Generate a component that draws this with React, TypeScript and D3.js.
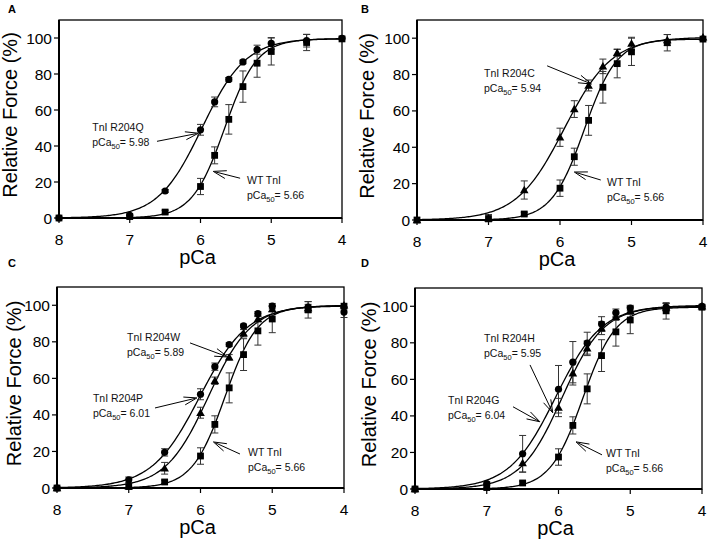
import React from "react";
import * as d3 from "d3";

// ---------- data ----------
const pCaLevels = [8, 7, 6.5, 6, 5.8, 5.6, 5.4, 5.2, 5, 4.5, 4];
const xTicks = [8, 7, 6, 5, 4];
const yTicks = [0, 20, 40, 60, 80, 100];

const wtForce = [0, 0.8, 3.3, 17.5, 34.8, 54.8, 73, 86, 92.5, 97.5, 99.5];
const wtErr = [0, 0.5, 1, 4.5, 4.7, 8.2, 8.7, 7.8, 7.5, 4.5, 0.5];
const r204qForce = [0, 1.5, 15, 49, 64.5, 77, 86.7, 93.5, 97, 98.5, 99.8];
const r204qErr = [0, 0.5, 0.8, 3, 2.7, 1, 1, 2.5, 3.2, 3.5, 0.5];
const r204cForce = [0, 1, 16.5, 45.5, 61, 74, 84.5, 92, 97, 99, 100.5];
const r204cErr = [0, 2, 5, 5, 4.6, 3, 4, 2, 3.5, 3, 0.5];
const r204pForce = [0, 4.5, 19.5, 51.3, 66.4, 78.5, 88.7, 95.5, 99.5, 99, 96.3];
const r204pErr = [0, 1.5, 2, 3, 2, 1, 1, 1, 1.5, 3, 3];
const r204wForce = [0, 1, 10.8, 41.2, 58.7, 71.5, 84.7, 92.5, 98, 98.5, 100];
const r204wErr = [0, 0.5, 3.2, 3, 2, 1.5, 2, 1.5, 1.5, 2, 0.5];
const r204gForce = [0, 3, 19.3, 54.6, 69.4, 79.8, 90.3, 96.5, 99, 99.5, 100];
const r204gErr = [0, 1, 10, 13, 11.3, 6, 4, 2, 1.5, 2, 0.5];
const r204hForce = [0, 1.5, 14.2, 44.6, 63.4, 77, 88, 94.3, 97.5, 99.5, 100];
const r204hErr = [0, 0.5, 5, 5, 6.5, 4, 3.5, 2, 2, 2, 0.5];

// Hill fit parameters: [pCa50, hill n, Fmax]
const wtFit = [5.66, 1.9, 99.5];
const r204qFit = [5.98, 1.4, 99.8];
const r204cFit = [5.94, 1.3, 100.5];
const r204pFit = [6.01, 1.3, 100];
const r204wFit = [5.89, 1.45, 100];
const r204gFit = [6.04, 1.35, 100.5];
const r204hFit = [5.95, 1.5, 100];

type Series = { force: number[]; err: number[]; fit: number[]; marker: "circle" | "square" | "triangle" };
type Note = { name: string; value: string; text: [number, number]; tail: [number, number]; head: [number, number] };

const WT: Series = { force: wtForce, err: wtErr, fit: wtFit, marker: "square" };

const panels = [
  {
    letter: "A", box: { x: 59, y: 20, w: 283, h: 198 }, letterPos: [8, 13], yLabelOff: 42,
    series: [WT, { force: r204qForce, err: r204qErr, fit: r204qFit, marker: "circle" }] as Series[],
    notes: [
      { name: "TnI R204Q", value: "5.98", text: [7.53, 50.4], tail: [6.615, 42.6], head: [6.03, 47.1] },
      { name: "WT TnI", value: "5.66", text: [5.343, 20.8], tail: [5.44, 22.1], head: [5.82, 25.9] },
    ] as Note[],
  },
  {
    letter: "B", box: { x: 417, y: 20, w: 286, h: 200 }, letterPos: [361, 13], yLabelOff: 43,
    series: [WT, { force: r204cForce, err: r204cErr, fit: r204cFit, marker: "triangle" }] as Series[],
    notes: [
      { name: "TnI R204C", value: "5.94", text: [7.063, 80.7], tail: [6.18, 84.8], head: [5.56, 74.8] },
      { name: "WT TnI", value: "5.66", text: [5.343, 20.6], tail: [5.43, 22], head: [5.8, 26.4] },
    ] as Note[],
  },
  {
    letter: "C", box: { x: 57, y: 287, w: 287, h: 201 }, letterPos: [8, 267], yLabelOff: 36,
    series: [WT,
      { force: r204wForce, err: r204wErr, fit: r204wFit, marker: "triangle" },
      { force: r204pForce, err: r204pErr, fit: r204pFit, marker: "circle" }] as Series[],
    notes: [
      { name: "TnI R204W", value: "5.89", text: [7.024, 82.6], tail: [6.146, 79.4], head: [5.62, 71.7] },
      { name: "TnI R204P", value: "6.01", text: [7.5, 49.3], tail: [6.634, 43.8], head: [6.05, 49.3] },
      { name: "WT TnI", value: "5.66", text: [5.338, 19.7], tail: [5.45, 18.6], head: [5.82, 25.2] },
    ] as Note[],
  },
  {
    letter: "D", box: { x: 415, y: 288, w: 287, h: 201 }, letterPos: [361, 267], yLabelOff: 39,
    series: [WT,
      { force: r204hForce, err: r204hErr, fit: r204hFit, marker: "triangle" },
      { force: r204gForce, err: r204gErr, fit: r204gFit, marker: "circle" }] as Series[],
    notes: [
      { name: "TnI R204H", value: "5.95", text: [7.038, 82.2], tail: [6.397, 67.9], head: [6.08, 41.7] },
      { name: "TnI R204G", value: "6.04", text: [7.54, 48.8], tail: [6.634, 45], head: [6.26, 36.8] },
      { name: "WT TnI", value: "5.66", text: [5.338, 19.3], tail: [5.394, 18.7], head: [5.756, 25.8] },
    ] as Note[],
  },
];

const FONT = "'Liberation Sans', Arial, Helvetica, sans-serif";

function hill(p: number, fit: number[]) {
  const [p50, n, fmax] = fit;
  return fmax / (1 + Math.pow(10, n * (p - p50)));
}

function Marker({ kind, x, y }: { kind: string; x: number; y: number }) {
  if (kind === "circle") return <circle cx={x} cy={y} r={3.6} fill="#000" />;
  if (kind === "square") return <rect x={x - 3.4} y={y - 3.4} width={6.8} height={6.8} fill="#000" />;
  const s = 4.3;
  return <path d={`M${x},${y - s}L${x + s},${y + s * 0.75}L${x - s},${y + s * 0.75}Z`} fill="#000" />;
}

function Panel({ p }: { p: (typeof panels)[number] }) {
  const { box } = p;
  const x = d3.scaleLinear().domain([8, 4]).range([box.x, box.x + box.w]);
  const y = d3.scaleLinear().domain([0, 110]).range([box.y + box.h, box.y]);
  const samples = d3.range(8, 3.999, -0.02);

  return (
    <g fontFamily={FONT}>
      <text x={p.letterPos[0]} y={p.letterPos[1]} fontSize={11} fontWeight="bold">{p.letter}</text>
      {/* frame */}
      <rect x={box.x} y={box.y} width={box.w} height={box.h} fill="none" stroke="#000" strokeWidth={1.3} />
      <line x1={box.x} x2={box.x} y1={box.y} y2={box.y + box.h} stroke="#000" strokeWidth={2} />
      <line x1={box.x} x2={box.x + box.w} y1={box.y + box.h} y2={box.y + box.h} stroke="#000" strokeWidth={2} />
      {/* y ticks */}
      {yTicks.map((t) => (
        <g key={"y" + t}>
          <line x1={box.x - 5} x2={box.x} y1={y(t)} y2={y(t)} stroke="#000" strokeWidth={1.2} />
          <text x={box.x - 7} y={y(t)} dy="0.36em" textAnchor="end" fontSize={15.5}>{t}</text>
        </g>
      ))}
      {xTicks.map((t) => (
        <g key={"x" + t}>
          <line x1={x(t)} x2={x(t)} y1={box.y + box.h} y2={box.y + box.h + 5} stroke="#000" strokeWidth={1.2} />
          <text x={x(t)} y={box.y + box.h + 26.5} textAnchor="middle" fontSize={15.5}>{t}</text>
        </g>
      ))}
      <text x={box.x + box.w / 2 - 3} y={box.y + box.h + 46} textAnchor="middle" fontSize={20}>pCa</text>
      <text transform={`translate(${box.x - p.yLabelOff},${box.y + box.h / 2 - 4}) rotate(-90)`} textAnchor="middle" fontSize={20}>Relative Force (%)</text>

      {/* fitted curves */}
      {p.series.map((s, i) => {
        const gen = d3.line<number>().x((d) => x(d)).y((d) => y(hill(d, s.fit)));
        return <path key={"c" + i} d={gen(samples) || ""} fill="none" stroke="#000" strokeWidth={1.3} />;
      })}
      {/* error bars */}
      {p.series.map((s, i) =>
        pCaLevels.map((pc, j) => {
          const e = s.err[j];
          if (e < 0.8) return null;
          const cx = x(pc);
          const y1 = y(s.force[j] + e);
          const y2 = y(s.force[j] - e);
          return (
            <g key={`e${i}-${j}`} stroke="#333" strokeWidth={1}>
              <line x1={cx} x2={cx} y1={y1} y2={y2} />
              <line x1={cx - 3.5} x2={cx + 3.5} y1={y1} y2={y1} />
              <line x1={cx - 3.5} x2={cx + 3.5} y1={y2} y2={y2} />
            </g>
          );
        })
      )}
      {/* markers */}
      {p.series.map((s, i) =>
        pCaLevels.map((pc, j) => <Marker key={`m${i}-${j}`} kind={s.marker} x={x(pc)} y={y(s.force[j])} />)
      )}
      {/* annotations */}
      {p.notes.map((n, i) => {
        const tx = x(n.tail[0]), ty = y(n.tail[1]);
        const hx = x(n.head[0]), hy = y(n.head[1]);
        const ang = Math.atan2(hy - ty, hx - tx);
        const L = 13, W = 4;
        const bx = hx - L * Math.cos(ang), by = hy - L * Math.sin(ang);
        const px = -Math.sin(ang) * W, py = Math.cos(ang) * W;
        const lx = x(n.text[0]), ly = y(n.text[1]);
        return (
          <g key={"n" + i}>
            <line x1={tx} y1={ty} x2={hx - 2 * Math.cos(ang)} y2={hy - 2 * Math.sin(ang)} stroke="#000" strokeWidth={1} />
            <path d={`M${bx + px},${by + py}L${hx},${hy}L${bx - px},${by - py}`} fill="none" stroke="#000" strokeWidth={1} />
            <text x={lx} y={ly} dy="0.35em" fontSize={10.5} fill="#111">{n.name}</text>
            <text x={lx} y={ly + 15} dy="0.35em" fontSize={10.5} fill="#111">
              pCa<tspan fontSize={7.5} dy={3}>50</tspan><tspan dy={-3}>= {n.value}</tspan>
            </text>
          </g>
        );
      })}
    </g>
  );
}

export default function App() {
  return (
    <svg width={708} height={544} style={{ position: "absolute", left: 0, top: 0, background: "#fff" }}>
      <rect width={708} height={544} fill="#fff" />
      {panels.map((p) => <Panel key={p.letter} p={p} />)}
    </svg>
  );
}
